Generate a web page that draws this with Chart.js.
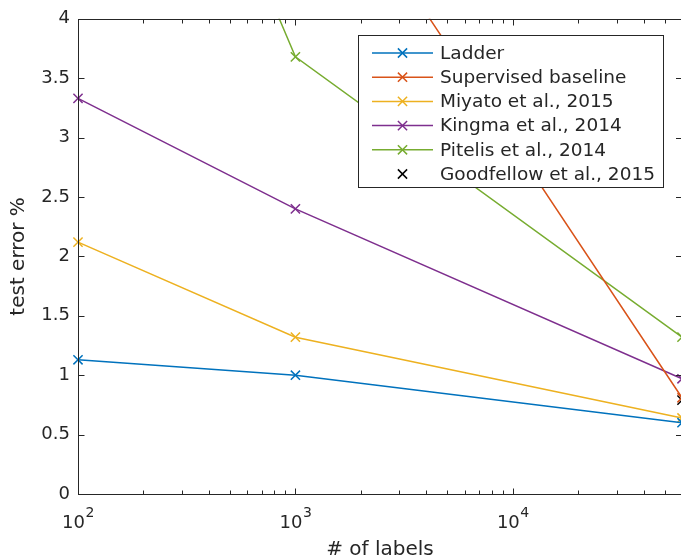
<!DOCTYPE html>
<html lang="en">

<head>
  <meta charset="UTF-8">
  <script src="https://cdn.jsdelivr.net/npm/chart.js"></script>
  <title>test error vs # of labels</title>
  <style>
    html, body { margin: 0; padding: 0; background: #fff; overflow: hidden; }
    #wrap { width: 690px; height: 560px; }
  </style>
</head>

<body>
  <div id="wrap"><canvas id="grafico" width="690" height="560"></canvas></div>
</body>

<script>
  // numero de labels (eixo x, log)
  const nLabels = [100, 1000, 60000];

  // test error % por metodo
  const ladder = [1.13, 1.00, 0.60];
  const supervised = [20.0, 5.70, 0.81];
  const miyato = [2.12, 1.32, 0.64];
  const kingma = [3.33, 2.40, 0.97];
  const pitelis = [8.0, 3.68, 1.32];
  const goodfellowX = [60000];
  const goodfellow = [0.79];

  const xTicks = [100, 1000, 10000];
  const xTickExp = ['2', '3', '4'];
  const yTicks = [0, 0.5, 1, 1.5, 2, 2.5, 3, 3.5, 4];

  const corTexto = '#262626';

  function pontos(xs, ys) {
    return xs.map((x, i) => ({ x: x, y: ys[i] }));
  }

  function serie(label, xs, ys, cor, linha) {
    return {
      label: label,
      data: pontos(xs, ys),
      borderColor: cor,
      backgroundColor: cor,
      borderWidth: 1.5,
      pointStyle: 'crossRot',
      pointRadius: 6.5,
      pointBorderWidth: 1.5,
      pointHoverRadius: 6.5,
      showLine: linha,
      tension: 0,
      clip: { left: 10, right: 10, top: 0, bottom: 0 }
    };
  }

  function cruz(ctx, x, y, r) {
    const d = r * Math.SQRT1_2;
    ctx.beginPath();
    ctx.moveTo(x - d, y - d); ctx.lineTo(x + d, y + d);
    ctx.moveTo(x - d, y + d); ctx.lineTo(x + d, y - d);
    ctx.stroke();
  }

  // caixa do eixo com ticks para dentro (estilo matlab) + labels 10^n
  const caixaEixos = {
    id: 'caixaEixos',
    afterDatasetsDraw(chart) {
      const { ctx, chartArea: a, scales } = chart;
      const L = Math.round(a.left) + 0.5, R = a.right, T = Math.round(a.top) + 0.5, B = Math.round(a.bottom) + 0.5;
      ctx.save();
      ctx.strokeStyle = corTexto;
      ctx.lineWidth = 1;
      ctx.strokeRect(L, T, R - L, B - T);
      ctx.beginPath();
      yTicks.forEach(v => {
        const y = Math.round(scales.y.getPixelForValue(v)) + 0.5;
        ctx.moveTo(L, y); ctx.lineTo(L + 6, y);
        ctx.moveTo(R, y); ctx.lineTo(R - 6, y);
      });
      xTicks.forEach(v => {
        const x = Math.round(scales.x.getPixelForValue(v)) + 0.5;
        ctx.moveTo(x, B); ctx.lineTo(x, B - 6);
        ctx.moveTo(x, T); ctx.lineTo(x, T + 6);
      });
      for (let dec = 100; dec <= 10000; dec *= 10) {
        for (let k = 2; k <= 9; k++) {
          const v = dec * k;
          if (v > 60000) break;
          const x = Math.round(scales.x.getPixelForValue(v)) + 0.5;
          ctx.moveTo(x, B); ctx.lineTo(x, B - 4);
          ctx.moveTo(x, T); ctx.lineTo(x, T + 4);
        }
      }
      ctx.stroke();

      // labels do eixo x: 10 com expoente
      ctx.fillStyle = corTexto;
      ctx.textBaseline = 'alphabetic';
      xTicks.forEach((v, i) => {
        const x = scales.x.getPixelForValue(v);
        ctx.font = '18px "DejaVu Sans"';
        const wBase = ctx.measureText('10').width;
        ctx.font = '14px "DejaVu Sans"';
        const wExp = ctx.measureText(xTickExp[i]).width;
        const x0 = x - (wBase + wExp) / 2;
        ctx.font = '18px "DejaVu Sans"';
        ctx.textAlign = 'left';
        ctx.fillText('10', x0, 528);
        ctx.font = '14px "DejaVu Sans"';
        ctx.fillText(xTickExp[i], x0 + wBase + 0.5, 517);
      });
      ctx.restore();
    }
  };

  // legenda dentro do grafico com caixa
  const legendaCaixa = {
    id: 'legendaCaixa',
    afterDraw(chart) {
      const ctx = chart.ctx;
      const x0 = 358.5, y0 = 35.5, w = 305, h = 152;
      ctx.save();
      ctx.fillStyle = '#fff';
      ctx.fillRect(x0, y0, w, h);
      ctx.strokeStyle = corTexto;
      ctx.lineWidth = 1;
      ctx.strokeRect(x0, y0, w, h);
      ctx.font = '18.5px "DejaVu Sans"';
      ctx.textBaseline = 'middle';
      ctx.textAlign = 'left';
      chart.data.datasets.forEach((ds, i) => {
        const y = 53 + i * 24.2;
        ctx.strokeStyle = ds.borderColor;
        ctx.lineWidth = 1.5;
        if (ds.showLine) {
          ctx.beginPath();
          ctx.moveTo(372, y); ctx.lineTo(433, y);
          ctx.stroke();
        }
        cruz(ctx, 402.5, y, 6.5);
        ctx.fillStyle = corTexto;
        ctx.fillText(ds.label, 440, y + 1);
      });
      ctx.restore();
    }
  };

  new Chart(document.getElementById('grafico'), {
    type: 'line',
    data: {
      datasets: [
        serie('Ladder', nLabels, ladder, '#0072BD', true),
        serie('Supervised baseline', nLabels, supervised, '#D95319', true),
        serie('Miyato et al., 2015', nLabels, miyato, '#EDB120', true),
        serie('Kingma et al., 2014', nLabels, kingma, '#7E2F8E', true),
        serie('Pitelis et al., 2014', nLabels, pitelis, '#77AC30', true),
        serie('Goodfellow et al., 2015', goodfellowX, goodfellow, '#000000', false)
      ]
    },
    options: {
      responsive: false,
      animation: false,
      events: [],
      layout: { padding: { top: 14.5, right: 6, left: 0, bottom: 0 } },
      scales: {
        x: {
          type: 'logarithmic',
          min: 100,
          max: 60000,
          afterFit(scale) { scale.height = 66; },
          afterBuildTicks(scale) { scale.ticks = xTicks.map(v => ({ value: v })); },
          grid: { display: false, drawTicks: false },
          border: { display: false },
          ticks: { display: false },
          title: {
            display: true,
            text: '# of labels',
            color: corTexto,
            font: { family: 'DejaVu Sans', size: 20 },
            padding: { top: 0, bottom: -2 }
          }
        },
        y: {
          min: 0,
          max: 4,
          afterFit(scale) { scale.width = 78; },
          afterBuildTicks(scale) { scale.ticks = yTicks.map(v => ({ value: v })); },
          grid: { display: false, drawTicks: false },
          border: { display: false },
          ticks: {
            padding: 8,
            color: corTexto,
            font: { family: 'DejaVu Sans', size: 18 },
            callback: (v) => String(v)
          },
          title: {
            display: true,
            text: 'test error %',
            color: corTexto,
            font: { family: 'DejaVu Sans', size: 20 },
            padding: { top: 7, bottom: 7 }
          }
        }
      },
      plugins: {
        legend: { display: false },
        tooltip: { enabled: false }
      }
    },
    plugins: [caixaEixos, legendaCaixa]
  });
</script>

</html>
